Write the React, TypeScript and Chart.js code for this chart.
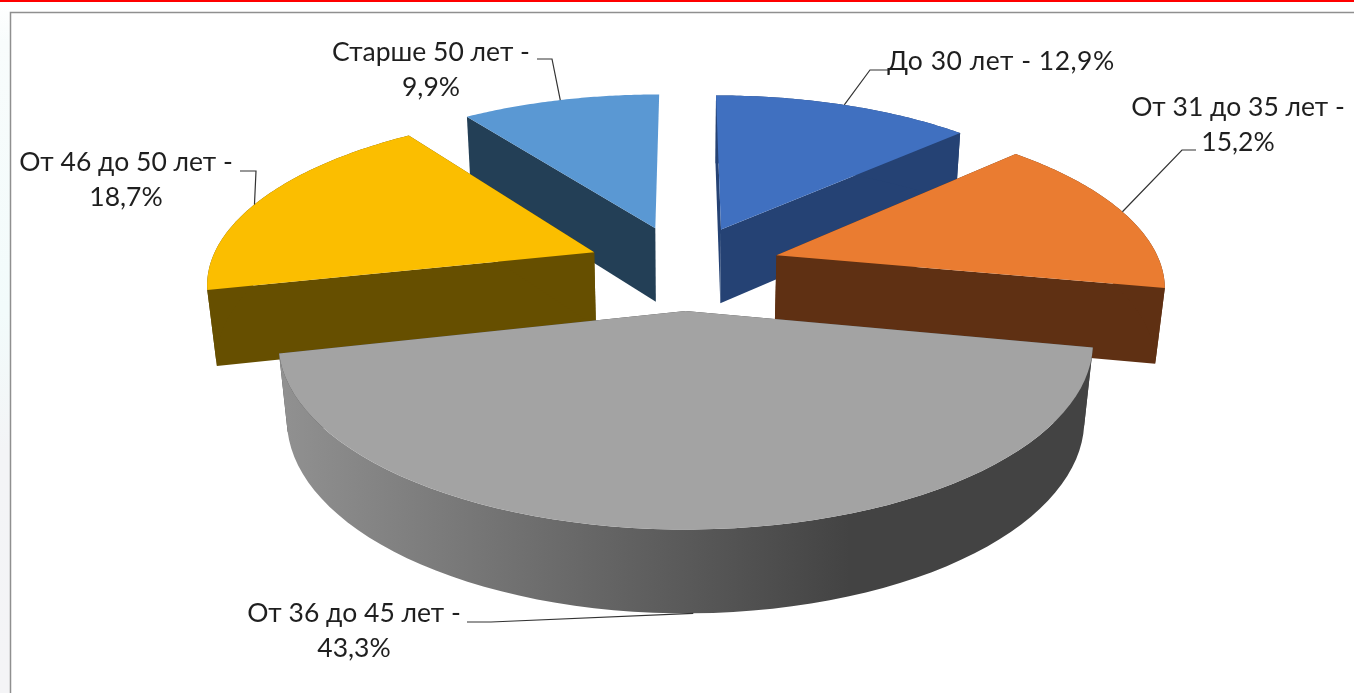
import React, { useEffect, useRef } from "react";
import { Chart, registerables } from "chart.js";

Chart.register(...registerables);

const categories = ["До 30 лет", "От 31 до 35 лет", "От 36 до 45 лет", "От 46 до 50 лет", "Старше 50 лет"];
const shares = [12.9, 15.2, 43.3, 18.7, 9.9];
const shareLabels = ["12,9%", "15,2%", "43,3%", "18,7%", "9,9%"];
const topColors = ["#4070c0", "#ea7c31", "#a3a3a3", "#fbbe00", "#5a98d3"];
const wallColors = ["#254274", "#5f3013", "#434343", "#664f00", "#233f56"];

// View model for the tilted, exploded pie
const VIEW = { cx: 684, cy: 267, ax: 385, by: 167, persp: 0.162, lift: 0.02, depth: 76.6, depthV: -2.3, explode: 0.253 };
const drawOrder = [4, 0, 3, 1, 2];

// label placement: text centre, leader anchor along the rim, elbow points of the leader
const labelLayout = [
  { x: 1001, y: 61, single: true, spacing: "0.5px", anchor: 0.5, leader: [[870, 70], [888, 70]] },
  { x: 1238, y: 107, single: false, spacing: "0px", anchor: 0.5, leader: [[1182, 150], [1196, 150]] },
  { x: 354, y: 613, single: false, spacing: "0px", anchor: 0.5, leader: [[491, 622], [467, 622]] },
  { x: 126, y: 162, single: false, spacing: "0px", anchor: 0.46, leader: [[256, 171], [240, 171]] },
  { x: 431, y: 52, single: false, spacing: "0px", anchor: 0.5, leader: [[552, 59], [537, 59]] },
];
const FONT = "26.5px Lato, 'Open Sans', sans-serif";
const LINE_GAP = 35;

function project(u: number, v: number, bottom = false) {
  const w = 1 - VIEW.persp * v + (bottom ? VIEW.lift : 0);
  const ny = VIEW.by * v + (bottom ? VIEW.depth + VIEW.depthV * v : 0);
  return { x: VIEW.cx + (VIEW.ax * u) / w, y: VIEW.cy + ny / w };
}

function sliceGeometry(el: any) {
  const { startAngle, endAngle } = el.getProps(["startAngle", "endAngle"], true);
  const a0 = startAngle + Math.PI / 2;
  const a1 = endAngle + Math.PI / 2;
  const mid = (a0 + a1) / 2;
  const ou = VIEW.explode * Math.sin(mid);
  const ov = -VIEW.explode * Math.cos(mid);
  const rim = (a: number, bottom = false) => project(ou + Math.sin(a), ov - Math.cos(a), bottom);
  const apex = (bottom = false) => project(ou, ov, bottom);
  return { a0, a1, mid, rim, apex };
}

const pie3d = {
  id: "pie3d",
  beforeDraw(chart: any) {
    const { ctx, width, height } = chart;
    ctx.save();
    ctx.fillStyle = "#ffffff";
    ctx.fillRect(0, 0, width, height);
    const strip = ctx.createLinearGradient(0, 0, 0, height);
    strip.addColorStop(0, "#ffffff");
    strip.addColorStop(0.06, "#f8fcfc");
    strip.addColorStop(0.45, "#f2fbfb");
    strip.addColorStop(0.65, "#f3f4f6");
    strip.addColorStop(1, "#f4f4f6");
    ctx.fillStyle = strip;
    ctx.fillRect(0, 2, 10, height);
    ctx.fillStyle = "#ff0000";
    ctx.fillRect(0, 0, width, 2);
    ctx.strokeStyle = "#8f8f8f";
    ctx.lineWidth = 1.5;
    ctx.beginPath();
    ctx.moveTo(10.5, height);
    ctx.lineTo(10.5, 12.5);
    ctx.lineTo(width, 12.5);
    ctx.stroke();
    ctx.restore();
  },
  beforeDatasetDraw() {
    return false;
  },
  afterDatasetsDraw(chart: any) {
    const { ctx } = chart;
    const meta = chart.getDatasetMeta(0);
    ctx.save();
    for (const i of drawOrder) {
      const g = sliceGeometry(meta.data[i]);
      const n = 64;
      const pts: { a: number }[] = [];
      for (let k = 0; k <= n; k++) pts.push({ a: g.a0 + ((g.a1 - g.a0) * k) / n });
      let wall: any = wallColors[i];
      if (i === 2) {
        wall = ctx.createLinearGradient(280, 0, 850, 0);
        wall.addColorStop(0, "#919191");
        wall.addColorStop(1, "#434343");
      }
      // radial walls (the last slice's closing wall faces away from the viewer)
      ctx.fillStyle = wallColors[i];
      const radial = i === 4 ? [g.a0] : [g.a0, g.a1];
      for (const a of radial) {
        const p1 = g.apex(), p2 = g.rim(a), p3 = g.rim(a, true), p4 = g.apex(true);
        ctx.beginPath();
        ctx.moveTo(p1.x, p1.y);
        ctx.lineTo(p2.x, p2.y);
        ctx.lineTo(p3.x, p3.y);
        ctx.lineTo(p4.x, p4.y);
        ctx.closePath();
        ctx.fill();
      }
      // rim wall
      if (i !== 4) {
        ctx.fillStyle = wall;
        ctx.beginPath();
        pts.forEach((p, k) => {
          const t = g.rim(p.a);
          if (k === 0) ctx.moveTo(t.x, t.y);
          else ctx.lineTo(t.x, t.y);
        });
        [...pts].reverse().forEach((p) => {
          const b = g.rim(p.a, true);
          ctx.lineTo(b.x, b.y);
        });
        ctx.closePath();
        ctx.fill();
      }
      // top face
      ctx.fillStyle = meta.data[i].options.backgroundColor;
      ctx.beginPath();
      const ap = g.apex();
      ctx.moveTo(ap.x, ap.y);
      pts.forEach((p) => {
        const t = g.rim(p.a);
        ctx.lineTo(t.x, t.y);
      });
      ctx.closePath();
      ctx.fill();
    }
    // leaders and labels
    ctx.font = FONT;
    ctx.textAlign = "center";
    ctx.textBaseline = "middle";
    categories.forEach((cat, i) => {
      const g = sliceGeometry(meta.data[i]);
      const lay = labelLayout[i];
      const anchorAngle = g.a0 + (g.a1 - g.a0) * lay.anchor;
      const start = i === 2 ? g.rim(anchorAngle, true) : g.rim(anchorAngle);
      ctx.strokeStyle = "#333333";
      ctx.lineWidth = 1.2;
      ctx.beginPath();
      ctx.moveTo(start.x, start.y);
      lay.leader.forEach(([x, y]) => ctx.lineTo(x, y));
      ctx.stroke();
      ctx.fillStyle = "#1f1f1f";
      ctx.letterSpacing = lay.spacing;
      if (lay.single) {
        ctx.fillText(`${cat} - ${shareLabels[i]}`, lay.x, lay.y);
      } else {
        ctx.fillText(`${cat} -`, lay.x, lay.y);
        ctx.fillText(shareLabels[i], lay.x, lay.y + LINE_GAP);
      }
      ctx.letterSpacing = "0px";
    });
    ctx.restore();
  },
};

export default function App() {
  const ref = useRef<HTMLCanvasElement | null>(null);
  useEffect(() => {
    if (!ref.current) return;
    const chart = new Chart(ref.current, {
      type: "pie",
      data: {
        labels: categories,
        datasets: [{ data: shares, backgroundColor: topColors, borderWidth: 0 }],
      },
      options: {
        responsive: false,
        animation: false,
        layout: { padding: 0 },
        plugins: { legend: { display: false }, tooltip: { enabled: false } },
      },
      plugins: [pie3d],
    } as any);
    return () => chart.destroy();
  }, []);
  return (
    <div style={{ position: "fixed", left: 0, top: 0, width: 1354, height: 693, background: "#fff" }}>
      <canvas ref={ref} width={1354} height={693} style={{ display: "block" }} />
    </div>
  );
}
